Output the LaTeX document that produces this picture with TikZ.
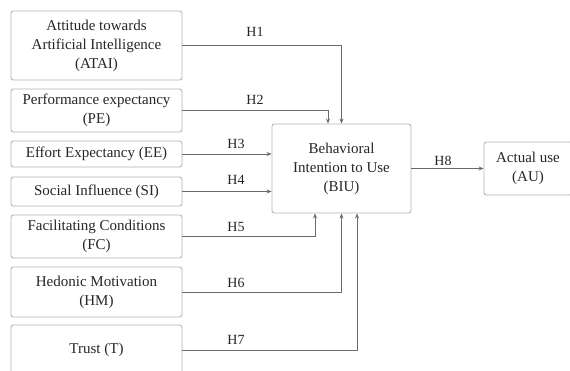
\documentclass[tikz,border=0pt]{standalone}
\usepackage{fontspec}
\setmainfont{Liberation Serif}
\usetikzlibrary{arrows.meta}
\definecolor{boxline}{HTML}{B4B4B4}
\definecolor{conline}{HTML}{6A6A6A}
\definecolor{txt}{HTML}{262626}
\tikzset{
  box/.style={draw=boxline, line width=0.9pt, rounded corners=2.5pt, fill=white, align=center,
    text=txt, font=\fontsize{15}{19}\selectfont, inner sep=0pt},
  conn/.style={draw=conline, line width=0.8pt, -{Stealth[length=5pt,width=4pt]}},
  hlab/.style={text=txt, font=\fontsize{14}{16}\selectfont, inner sep=0pt}
}
\begin{document}
\begin{tikzpicture}[x=1pt,y=-1pt]
\clip (0,0) rectangle (570,371);
\useasboundingbox (0,0) rectangle (570,371);
\fill[white] (0,0) rectangle (570,371);
\node[box, minimum width=171pt, minimum height=69pt] (ATAI) at (96.5,45.5) {Attitude towards\\Artificial Intelligence\\(ATAI)};
\node[box, minimum width=171pt, minimum height=43pt] (PE) at (96.5,110.5) {Performance expectancy\\(PE)};
\node[box, minimum width=171pt, minimum height=26pt] (EE) at (96.5,154) {Effort Expectancy (EE)};
\node[box, minimum width=171pt, minimum height=29pt] (SI) at (96.5,191.5) {Social Influence (SI)};
\node[box, minimum width=171pt, minimum height=43pt] (FC) at (96.5,236.5) {Facilitating Conditions\\(FC)};
\node[box, minimum width=171pt, minimum height=50pt] (HM) at (96.5,292) {Hedonic Motivation\\(HM)};
\node[box, minimum width=171pt, minimum height=50pt] (TR) at (96.5,350) {Trust (T)};
\node[box, minimum width=139pt, minimum height=89pt] (BIU) at (341.5,168.5) {Behavioral\\Intention to Use\\(BIU)};
\node[box, minimum width=88pt, minimum height=53pt] (AU) at (528,168.5) {Actual use\\(AU)};

\coordinate (n1) at ([xshift=0pt]BIU.north);
\coordinate (n2) at ([xshift=-13.5pt]BIU.north);
\coordinate (s5) at ([xshift=-26.5pt]BIU.south);
\coordinate (s6) at ([xshift=0pt]BIU.south);
\coordinate (s7) at ([xshift=15.5pt]BIU.south);

\draw[conn] (ATAI.east) -| (n1);
\draw[conn] (PE.east) -| (n2);
\draw[conn] (EE.east) -- (EE.east -| BIU.west);
\draw[conn] (SI.east) -- (SI.east -| BIU.west);
\draw[conn] (FC.east) -| (s5);
\draw[conn] (HM.east) -| (s6);
\draw[conn] (TR.east) -| (s7);
\draw[conn] (BIU.east) -- (AU.west);

\node[hlab] (L1) at (255,32) {H1};
\node[hlab] (L2) at (255,100) {H2};
\node[hlab] (L3) at (236,144) {H3};
\node[hlab] (L4) at (236,180) {H4};
\node[hlab] (L5) at (236,227) {H5};
\node[hlab] (L6) at (236,283) {H6};
\node[hlab] (L7) at (236,340) {H7};
\node[hlab] (L8) at (443,161) {H8};
\end{tikzpicture}
\end{document}
